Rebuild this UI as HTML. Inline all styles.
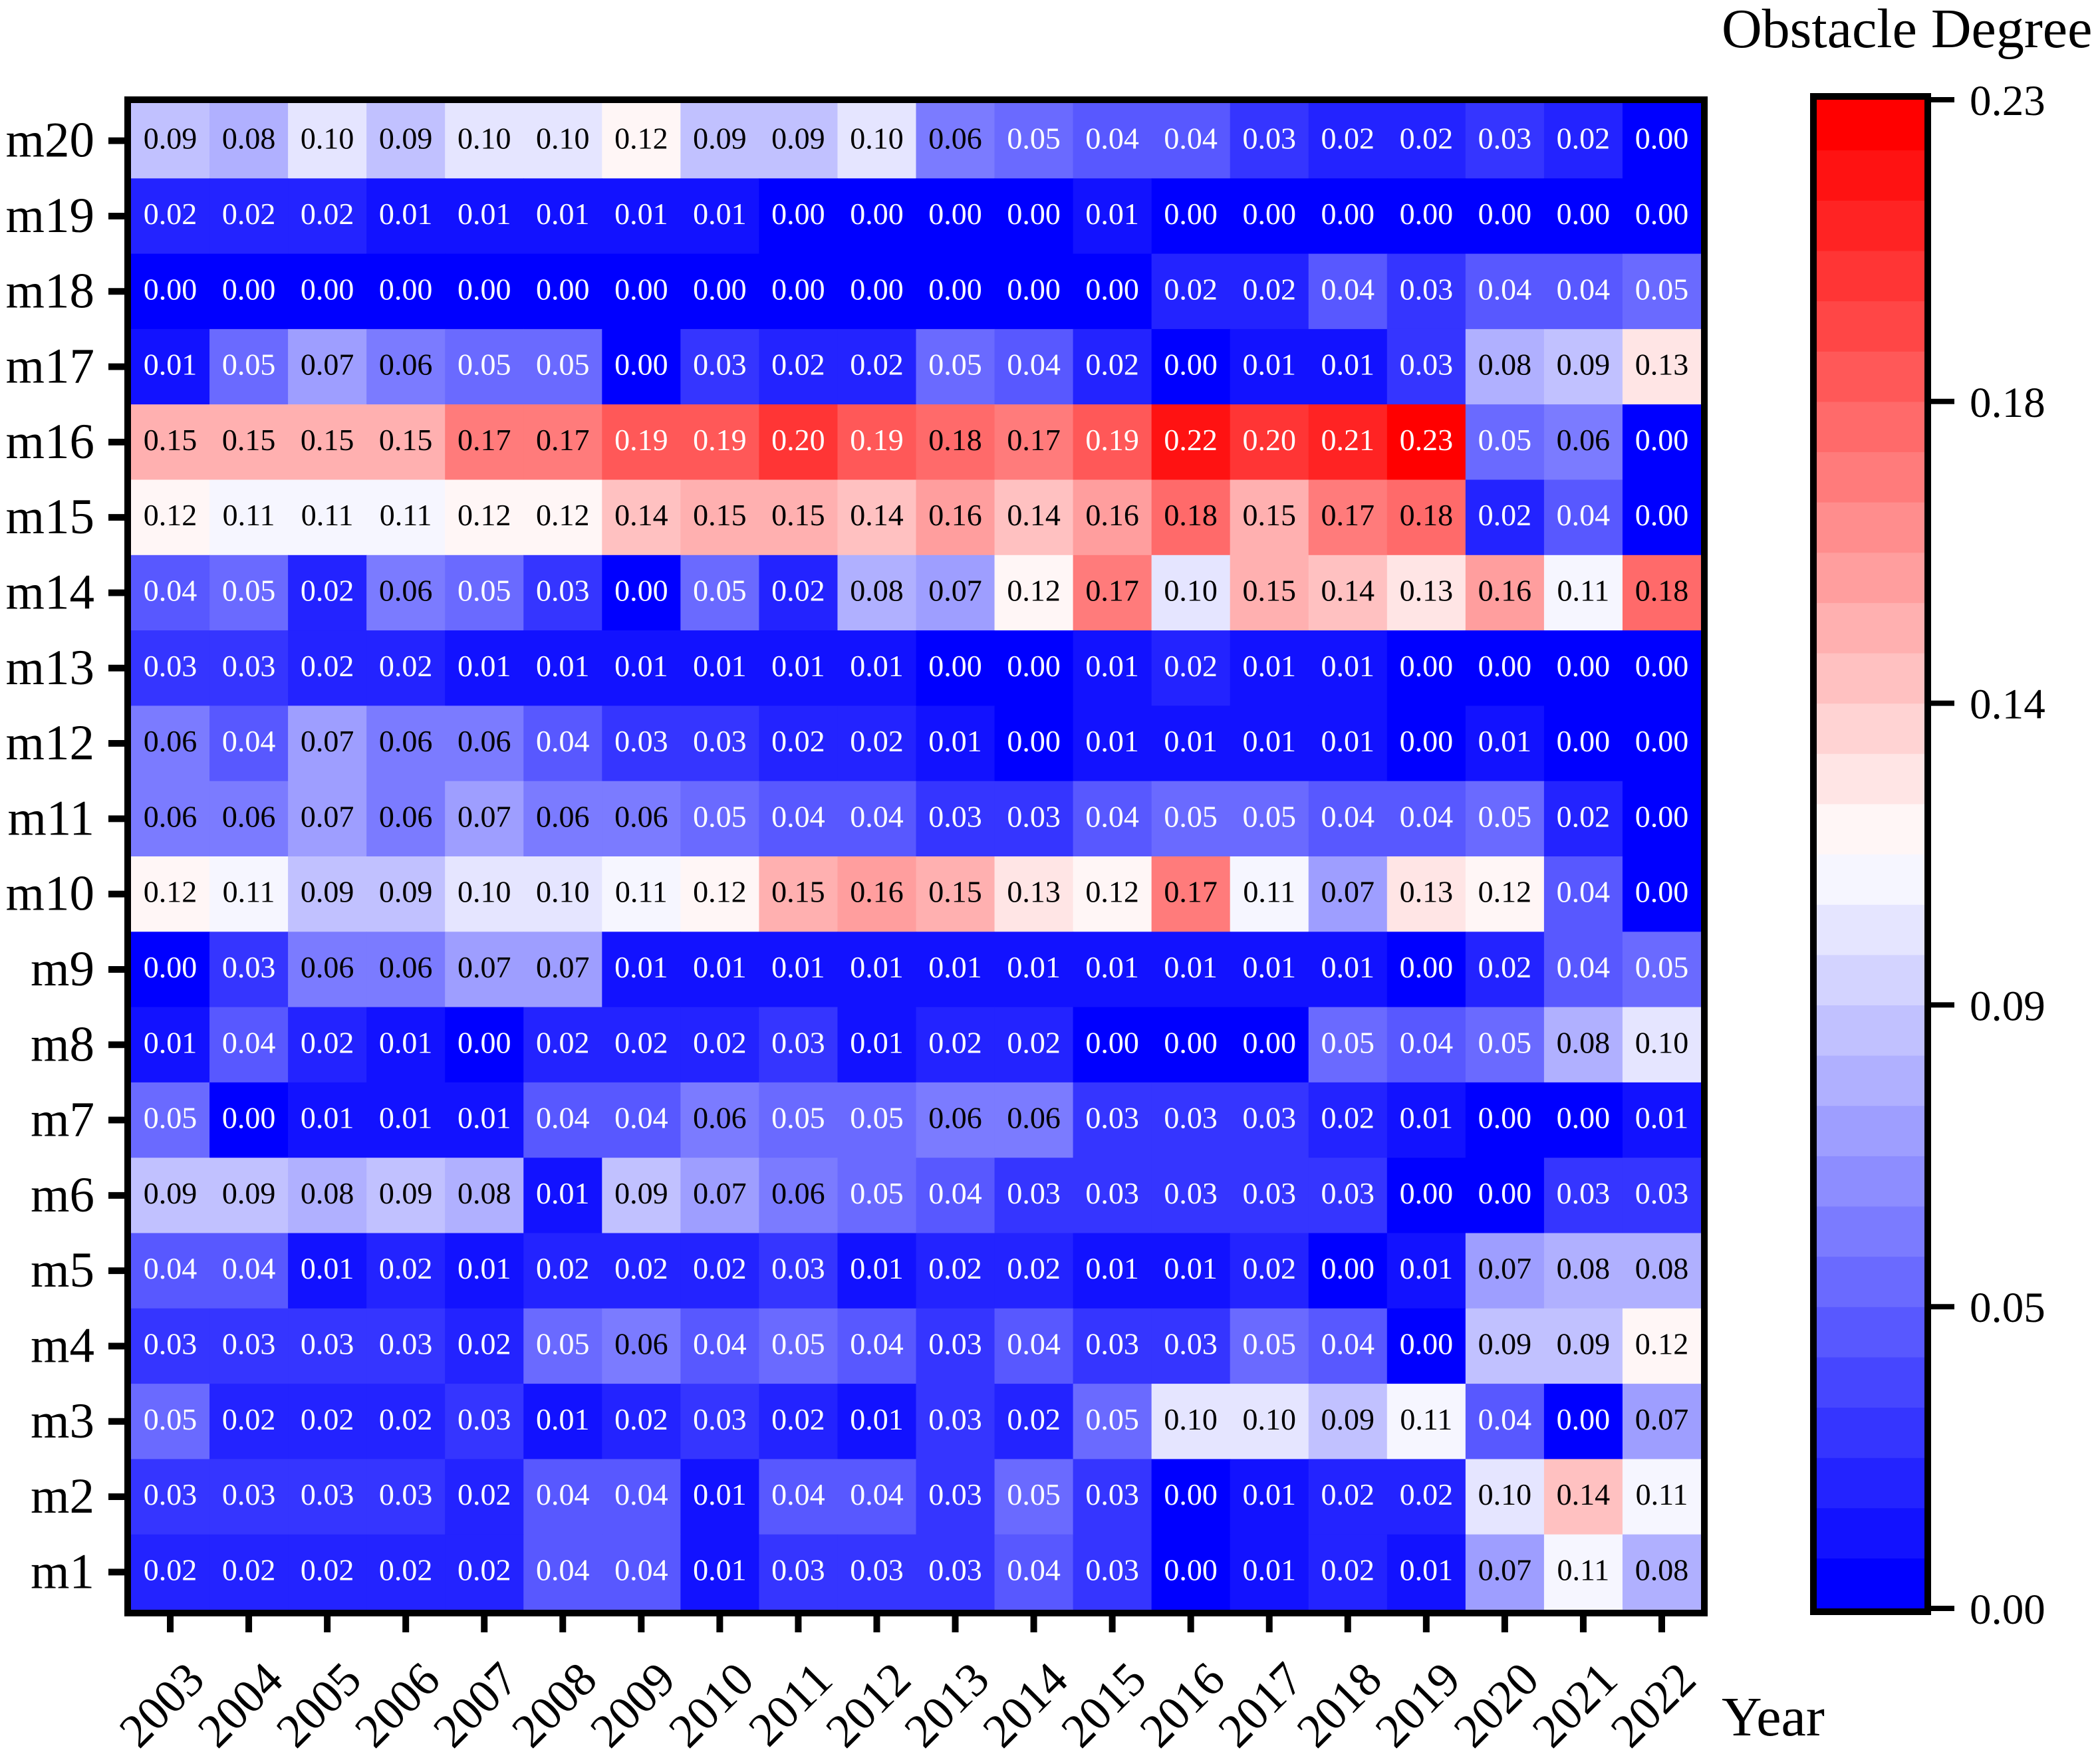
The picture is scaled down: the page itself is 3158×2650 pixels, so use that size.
<!DOCTYPE html>
<html><head><meta charset="utf-8"><style>
html,body{margin:0;padding:0;background:#fff;}
svg{display:block;font-family:"Liberation Serif","Times New Roman",serif;}
</style></head><body>
<svg id="chart" xmlns="http://www.w3.org/2000/svg" width="3158" height="2650" viewBox="0 0 3158 2650"></svg>
<script>
const years = ["2003","2004","2005","2006","2007","2008","2009","2010","2011","2012","2013","2014","2015","2016","2017","2018","2019","2020","2021","2022"];
const rowLabels = ["m20","m19","m18","m17","m16","m15","m14","m13","m12","m11","m10","m9","m8","m7","m6","m5","m4","m3","m2","m1"];
const m20 = [.09,.08,.10,.09,.10,.10,.12,.09,.09,.10,.06,.05,.04,.04,.03,.02,.02,.03,.02,.00];
const m19 = [.02,.02,.02,.01,.01,.01,.01,.01,0,0,0,0,.01,0,0,0,0,0,0,0];
const m18 = [0,0,0,0,0,0,0,0,0,0,0,0,0,.02,.02,.04,.03,.04,.04,.05];
const m17 = [.01,.05,.07,.06,.05,.05,.00,.03,.02,.02,.05,.04,.02,.00,.01,.01,.03,.08,.09,.13];
const m16 = [.15,.15,.15,.15,.17,.17,.19,.19,.20,.19,.18,.17,.19,.22,.20,.21,.23,.05,.06,.00];
const m15 = [.12,.11,.11,.11,.12,.12,.14,.15,.15,.14,.16,.14,.16,.18,.15,.17,.18,.02,.04,.00];
const m14 = [.04,.05,.02,.06,.05,.03,.00,.05,.02,.08,.07,.12,.17,.10,.15,.14,.13,.16,.11,.18];
const m13 = [.03,.03,.02,.02,.01,.01,.01,.01,.01,.01,0,0,.01,.02,.01,.01,0,0,0,0];
const m12 = [.06,.04,.07,.06,.06,.04,.03,.03,.02,.02,.01,0,.01,.01,.01,.01,0,.01,0,0];
const m11 = [.06,.06,.07,.06,.07,.06,.06,.05,.04,.04,.03,.03,.04,.05,.05,.04,.04,.05,.02,0];
const m10 = [.12,.11,.09,.09,.10,.10,.11,.12,.15,.16,.15,.13,.12,.17,.11,.07,.13,.12,.04,0];
const m9  = [0,.03,.06,.06,.07,.07,.01,.01,.01,.01,.01,.01,.01,.01,.01,.01,0,.02,.04,.05];
const m8  = [.01,.04,.02,.01,0,.02,.02,.02,.03,.01,.02,.02,0,0,0,.05,.04,.05,.08,.10];
const m7  = [.05,0,.01,.01,.01,.04,.04,.06,.05,.05,.06,.06,.03,.03,.03,.02,.01,0,0,.01];
const m6  = [.09,.09,.08,.09,.08,.01,.09,.07,.06,.05,.04,.03,.03,.03,.03,.03,0,0,.03,.03];
const m5  = [.04,.04,.01,.02,.01,.02,.02,.02,.03,.01,.02,.02,.01,.01,.02,0,.01,.07,.08,.08];
const m4  = [.03,.03,.03,.03,.02,.05,.06,.04,.05,.04,.03,.04,.03,.03,.05,.04,0,.09,.09,.12];
const m3  = [.05,.02,.02,.02,.03,.01,.02,.03,.02,.01,.03,.02,.05,.10,.10,.09,.11,.04,0,.07];
const m2  = [.03,.03,.03,.03,.02,.04,.04,.01,.04,.04,.03,.05,.03,0,.01,.02,.02,.10,.14,.11];
const m1  = [.02,.02,.02,.02,.02,.04,.04,.01,.03,.03,.03,.04,.03,0,.01,.02,.01,.07,.11,.08];
const matrix = [m20,m19,m18,m17,m16,m15,m14,m13,m12,m11,m10,m9,m8,m7,m6,m5,m4,m3,m2,m1];
const cbTicks = [0,0.046,0.092,0.138,0.184,0.23];
const vMin = 0, vMax = 0.23, nLevels = 30;

const NS = "http://www.w3.org/2000/svg";
const svg = document.getElementById("chart");
function mk(tag, attrs, parent){const e=document.createElementNS(NS,tag);for(const k in attrs)e.setAttribute(k,attrs[k]);(parent||svg).appendChild(e);return e;}

const L=197,R=2558,T=155,B=2421;
const cw=(R-L)/years.length, ch=(B-T)/rowLabels.length;
const xScale = i => L + i*cw;
const yScale = j => T + j*ch;
function level(v){let k=Math.floor((v-vMin)/(vMax-vMin)*nLevels);return Math.max(0,Math.min(nLevels-1,k));}
function colorAt(t){let r,g,b;if(t<=0.5){const s=t/0.5;r=Math.round(255*s);g=r;b=255;}else{const s=(t-0.5)/0.5;r=255;g=Math.round(255*(1-s));b=g;}return `rgb(${r},${g},${b})`;}
function color(v){return colorAt(level(v)/(nLevels-1));}

const cells = mk("g",{});


matrix.forEach((row,j)=>{row.forEach((v,i)=>{
  const r=mk("rect",{x:xScale(i),y:yScale(j),width:cw+0.6,height:ch+0.6,fill:color(v)},cells);
  
  
  const t=mk("text",{x:xScale(i)+cw/2,y:yScale(j)+ch/2+12,"text-anchor":"middle","font-size":46,fill:(v<=0.05||v>=0.19)?"#fff":"#000"},cells);
  
  
  t.textContent=v.toFixed(2);
});});

const frame=mk("rect",{x:L-5,y:T-5,width:R-L+10,height:B-T+10,fill:"none",stroke:"#000","stroke-width":10});



rowLabels.forEach((lab,j)=>{
  const cy=yScale(j)+ch/2;
  const tk=mk("line",{x1:163,x2:187,y1:cy,y2:cy,stroke:"#000","stroke-width":10});
  
  
  const t=mk("text",{x:142,y:cy+24,"text-anchor":"end","font-size":75});
  
  
  t.textContent=lab;
});
years.forEach((yr,i)=>{
  const cx=xScale(i)+cw/2;
  const tk=mk("line",{x1:cx,x2:cx,y1:B+9,y2:2455,stroke:"#000","stroke-width":10});
  
  
  const ax=cx+55, ay=2530;
  const t=mk("text",{x:ax,y:ay,"text-anchor":"end","font-size":72,transform:`rotate(-45 ${ax} ${ay})`});
  
  
  t.textContent=yr;
});
const xt=mk("text",{x:2589,y:2610,"font-size":84});


xt.textContent="Year";

const CL=2732,CR=2894,CT=150,CB=2419;
const cbG=mk("g",{});


const bh=(CB-CT)/nLevels;
for(let k=0;k<nLevels;k++){
  const r=mk("rect",{x:CL,y:CB-(k+1)*bh,width:CR-CL,height:bh+0.6,fill:colorAt(k/(nLevels-1))},cbG);
  
  
}
const cbf=mk("rect",{x:CL-5,y:CT-5,width:CR-CL+10,height:CB-CT+10,fill:"none",stroke:"#000","stroke-width":10});


const cbY=v=>CB-(v-vMin)/(vMax-vMin)*(CB-CT);
cbTicks.forEach(v=>{
  const y=cbY(v);
  const tk=mk("line",{x1:CR+5,x2:2939,y1:y,y2:y,stroke:"#000","stroke-width":8});
  
  
  const t=mk("text",{x:2962,y:y+23,"font-size":65});
  
  
  t.textContent=v.toFixed(2);
});
const ct=mk("text",{x:2589,y:71,"font-size":84});


ct.textContent="Obstacle Degree";
</script>
</body></html>
